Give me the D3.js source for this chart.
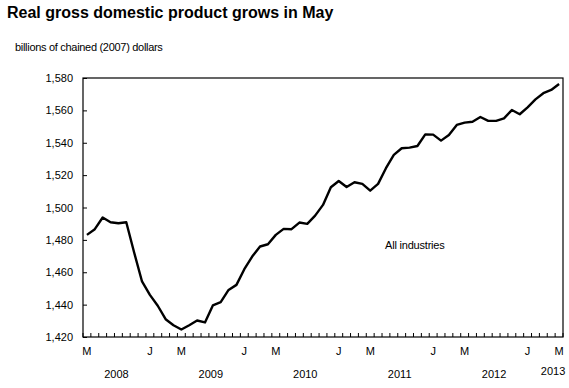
<!DOCTYPE html>
<html>
<head>
<meta charset="utf-8">
<script src="https://cdn.jsdelivr.net/npm/d3@7"></script>
<style>
  body { margin: 0; background: #fff; }
  svg { display: block; font-family: "Liberation Sans", Arial, sans-serif; }
</style>
</head>
<body>
<svg width="569" height="388"></svg>
<script>
// monthly GDP, May 2008 .. May 2013 (billions of chained 2007 dollars)
var months = d3.timeMonths(new Date(2008, 4, 1), new Date(2013, 5, 1));
var gdp = [
  1483.1, 1486.6, 1493.8, 1490.9, 1490.3, 1490.9, 1472.2, 1454.3, 1446.0, 1439.3,
  1431.0, 1427.3, 1424.6, 1427.3, 1430.2, 1429.0, 1439.5, 1441.5, 1449.1, 1452.2,
  1461.9, 1469.7, 1475.9, 1477.3, 1483.1, 1486.8, 1486.6, 1490.7, 1489.9, 1495.0,
  1501.6, 1512.5, 1516.4, 1512.7, 1515.6, 1514.6, 1510.4, 1514.6, 1524.3, 1532.5,
  1536.6, 1537.0, 1538.0, 1545.2, 1545.0, 1541.3, 1544.8, 1551.0, 1552.4, 1553.0,
  1555.9, 1553.5, 1553.5, 1555.1, 1560.2, 1557.6, 1561.9, 1566.8, 1570.6, 1572.6,
  1576.3
];
var yTicks = [1420, 1440, 1460, 1480, 1500, 1520, 1540, 1560, 1580];
var years = [2008, 2009, 2010, 2011, 2012, 2013];

var data = months.map(function(m, i) { return {date: m, value: gdp[i]}; });

var svg = d3.select("svg"),
    margin = {top: 78, right: 6, bottom: 51, left: 83},
    width = +svg.attr("width") - margin.left - margin.right,
    height = +svg.attr("height") - margin.top - margin.bottom;

// title + unit
svg.append("text")
    .attr("x", 7).attr("y", 18)
    .attr("font-size", 16).attr("font-weight", "bold")
    .attr("fill", "#000")
    .text("Real gross domestic product grows in May");

svg.append("text")
    .attr("x", 15).attr("y", 51)
    .attr("font-size", 11)
    .attr("letter-spacing", -0.3)
    .attr("fill", "#000")
    .text("billions of chained (2007) dollars");

var g = svg.append("g").attr("transform", "translate(" + margin.left + "," + margin.top + ")");

var x = d3.scalePoint()
    .domain(months.map(function(m) { return +m; }))
    .range([0, width])
    .padding(0.5);
var step = x.step();

var y = d3.scaleLinear()
    .domain([1420, 1580])
    .range([height, 0]);

// frame
g.append("rect")
    .attr("x", 0).attr("y", 0)
    .attr("width", width).attr("height", height)
    .attr("fill", "none")
    .attr("stroke", "#000")
    .attr("stroke-width", 1.2);

// y axis
var yAxis = g.append("g")
    .call(d3.axisLeft(y).tickValues(yTicks).tickSize(-4).tickPadding(10).tickFormat(d3.format(",")));
yAxis.select(".domain").remove();
yAxis.selectAll("line").attr("stroke", "#000");
yAxis.selectAll("text").attr("font-size", 11).attr("font-family", "Liberation Sans, Arial, sans-serif").attr("fill", "#000");

// x ticks between months
var tickPos = d3.range(months.length + 1).map(function(i) { return i * step; });
g.append("g").selectAll("line")
    .data(tickPos)
    .enter().append("line")
    .attr("x1", function(d) { return d; })
    .attr("x2", function(d) { return d; })
    .attr("y1", height)
    .attr("y2", height - 4)
    .attr("stroke", "#000");

// month labels (Jan / May)
var monthLabels = months.filter(function(m) { return m.getMonth() === 0 || m.getMonth() === 4; });
g.append("g").selectAll("text")
    .data(monthLabels)
    .enter().append("text")
    .attr("x", function(d) { return x(+d); })
    .attr("y", height + 18)
    .attr("text-anchor", "middle")
    .attr("font-size", 11)
    .attr("fill", "#000")
    .text(function(d) { return d.getMonth() === 0 ? "J" : "M"; });

// year labels
g.append("g").selectAll("text")
    .data(years)
    .enter().append("text")
    .attr("x", function(d) {
        if (d === 2013) return x(+months[months.length - 1]) - 6;
        return x(+new Date(d, 8, 1)) - 2;
    })
    .attr("y", function(d) { return d === 2013 ? height + 38 : height + 41; })
    .attr("text-anchor", "middle")
    .attr("font-size", 11)
    .attr("fill", "#000")
    .text(function(d) { return d; });

// line
var line = d3.line()
    .x(function(d) { return x(+d.date); })
    .y(function(d) { return y(d.value); });

g.append("path")
    .datum(data)
    .attr("fill", "none")
    .attr("stroke", "#000")
    .attr("stroke-width", 2.4)
    .attr("stroke-linejoin", "round")
    .attr("d", line);

// series label
g.append("text")
    .attr("x", 302).attr("y", 171)
    .attr("font-size", 11)
    .attr("letter-spacing", -0.2)
    .attr("fill", "#000")
    .text("All industries");
</script>
</body>
</html>
